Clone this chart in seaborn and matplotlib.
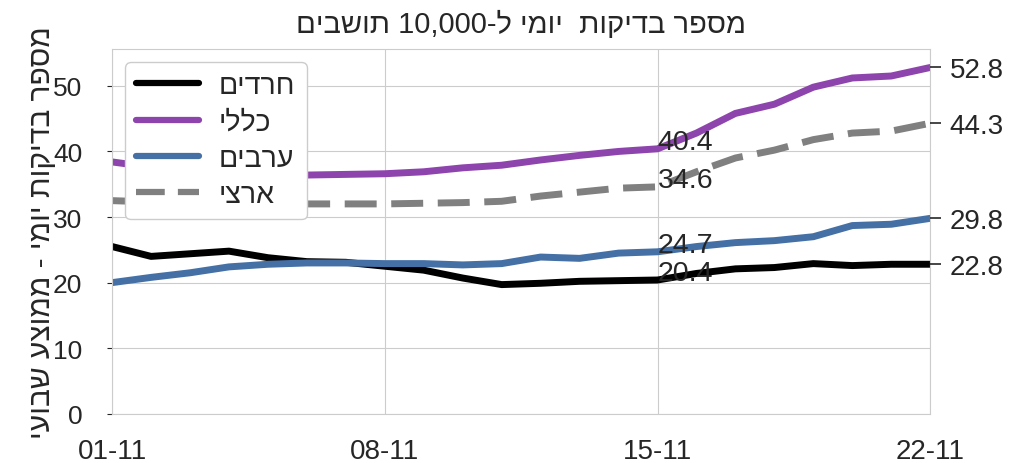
import re
import pandas as pd
import seaborn as sns
import matplotlib.pyplot as plt
import matplotlib.dates as mdates

days = pd.date_range('2020-11-01', '2020-11-22')

haredim = [25.5, 24.0, 24.4, 24.8, 23.8, 23.2, 23.1, 22.5, 21.9, 20.7, 19.7,
           19.9, 20.2, 20.3, 20.4, 21.4, 22.1, 22.3, 22.9, 22.6, 22.8, 22.8]
general = [38.4, 37.6, 37.0, 36.6, 36.4, 36.4, 36.5, 36.6, 36.9, 37.5, 37.9,
           38.7, 39.4, 40.0, 40.4, 42.8, 45.8, 47.2, 49.8, 51.2, 51.5, 52.8]
arabs = [20.0, 20.8, 21.5, 22.4, 22.8, 23.0, 23.0, 22.9, 22.9, 22.7, 22.9,
         23.9, 23.7, 24.5, 24.7, 25.5, 26.1, 26.4, 27.0, 28.7, 28.9, 29.8]
national = [32.5, 32.3, 32.2, 32.1, 32.0, 32.0, 32.0, 32.0, 32.1, 32.2, 32.4,
            33.2, 33.8, 34.4, 34.6, 36.9, 39.0, 40.2, 41.8, 42.8, 43.1, 44.3]

labels = ['חרדים', 'כללי', 'ערבים', 'ארצי']
colors = ['black', '#8e44ad', '#4470a6', 'gray']
title = 'מספר בדיקות  יומי ל-10,000 תושבים'
ylabel = 'מספר בדיקות יומי - ממוצע שבועי'


def flip(s):
    # reverse the hebrew but keep numbers readable
    r = s[::-1]
    return re.sub(r'[\d,]+', lambda m: m.group(0)[::-1], r)


sns.set_style('whitegrid')
plt.rcParams['font.family'] = ['Liberation Sans', 'DejaVu Sans']

fig, ax = plt.subplots(figsize=(10.1, 4.64), dpi=100)
fig.subplots_adjust(left=0.111, right=0.921, bottom=0.106, top=0.892)

series = [haredim, general, arabs, national]
for vals, lab, col in zip(series, labels, colors):
    ls = '--' if lab == 'ארצי' else '-'
    sns.lineplot(x=days, y=vals, ax=ax, color=col, linewidth=5, label=flip(lab), linestyle=ls)
ax.lines[3].set_dashes((4.6, 2.1))

# values on 15-11
mid = 14
for vals in series:
    ax.text(days[mid], vals[mid], f'{vals[mid]:.1f}', fontsize=20.5, color='.15',
            ha='left', va='baseline')

ax.set_xlim(days[0], days[-1])
ax.set_ylim(0, 55.6)
ax.set_xticks(days[::7])
ax.xaxis.set_major_formatter(mdates.DateFormatter('%d-%m'))
ax.set_yticks(range(0, 51, 10))
ax.tick_params(axis='x', labelsize=20, colors='.15', pad=14)
ax.tick_params(axis='y', labelsize=19, colors='.15', pad=18)
ax.set_xlabel('')
ax.set_ylabel(ylabel[::-1], fontsize=21.5, color='.15', labelpad=-2)
ax.set_title(flip(title), fontsize=21, color='.15', pad=12)

leg = ax.legend(loc='upper left', fontsize=20.5, handlelength=2.2, borderaxespad=0.45,
                handletextpad=0.7, labelspacing=0.36, framealpha=1)
for h in leg.get_lines():
    h.set_linewidth(4.5)

# last values on right side
ax2 = ax.twinx()
ax2.set_ylim(ax.get_ylim())
last = [vals[-1] for vals in series]
ax2.set_yticks(last)
ax2.set_yticklabels([f'{v:.1f}' for v in last])
ax2.grid(False)
ax2.tick_params(right=True, length=8, width=1.2, pad=6, labelsize=20, colors='.15')
for s in ax2.spines.values():
    s.set_visible(False)

plt.savefig('out.png')
